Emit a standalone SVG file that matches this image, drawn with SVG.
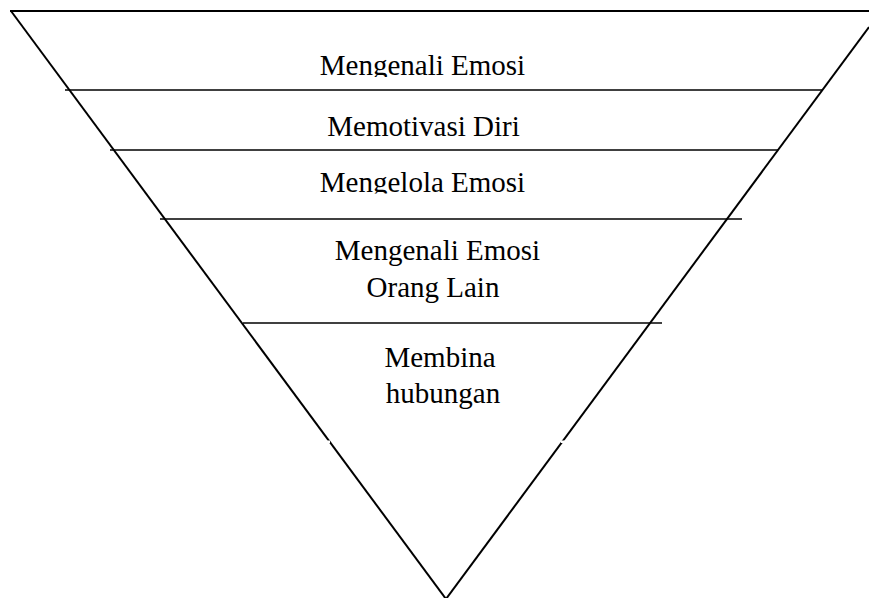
<svg xmlns="http://www.w3.org/2000/svg" width="869" height="598" viewBox="0 0 869 598">
  <style>
    .edge { stroke: #000; stroke-width: 2; fill: none; }
    .band { stroke: #000; stroke-width: 1.6; fill: none; }
    .label { font-family: "Liberation Serif", "Times New Roman", serif; font-size: 29px; fill: #000; text-anchor: middle; }
  </style>
  <defs>
    <clipPath id="clip-top"><rect x="0" y="0" width="869" height="77"/></clipPath>
    <clipPath id="clip-third"><rect x="0" y="150" width="869" height="43.5"/></clipPath>
  </defs>
  <rect width="869" height="598" fill="#fff"/>

  <!-- inverted triangle outline and level dividers -->
  <g id="connectors">
    <line class="edge" x1="10" y1="11" x2="869" y2="11"/>
    <line class="edge" x1="11" y1="11" x2="446" y2="599"/>
    <line class="edge" x1="869" y1="27" x2="446" y2="599"/>
    <line class="band" x1="65" y1="90" x2="823" y2="90"/>
    <line class="band" x1="110" y1="150" x2="778" y2="150"/>
    <line class="band" x1="160" y1="219" x2="742" y2="219"/>
    <line class="band" x1="243" y1="323" x2="662" y2="323"/>
    <!-- small breaks in the sides -->
    <rect x="326" y="440.5" width="4" height="2.5" fill="#fff"/>
    <rect x="561" y="440.5" width="4" height="2.5" fill="#fff"/>
  </g>

  <g id="level-1" clip-path="url(#clip-top)">
    <text class="label" x="422.5" y="74.5">Mengenali Emosi</text>
  </g>
  <g id="level-2">
    <text class="label" x="423.5" y="136">Memotivasi Diri</text>
  </g>
  <g id="level-3" clip-path="url(#clip-third)">
    <text class="label" x="422.5" y="191.5">Mengelola Emosi</text>
  </g>
  <g id="level-4">
    <text class="label" x="437.5" y="259.5">Mengenali Emosi</text>
    <text class="label" x="433" y="296.5">Orang Lain</text>
  </g>
  <g id="level-5">
    <text class="label" x="440" y="366.5">Membina</text>
    <text class="label" x="443" y="403">hubungan</text>
  </g>
</svg>
